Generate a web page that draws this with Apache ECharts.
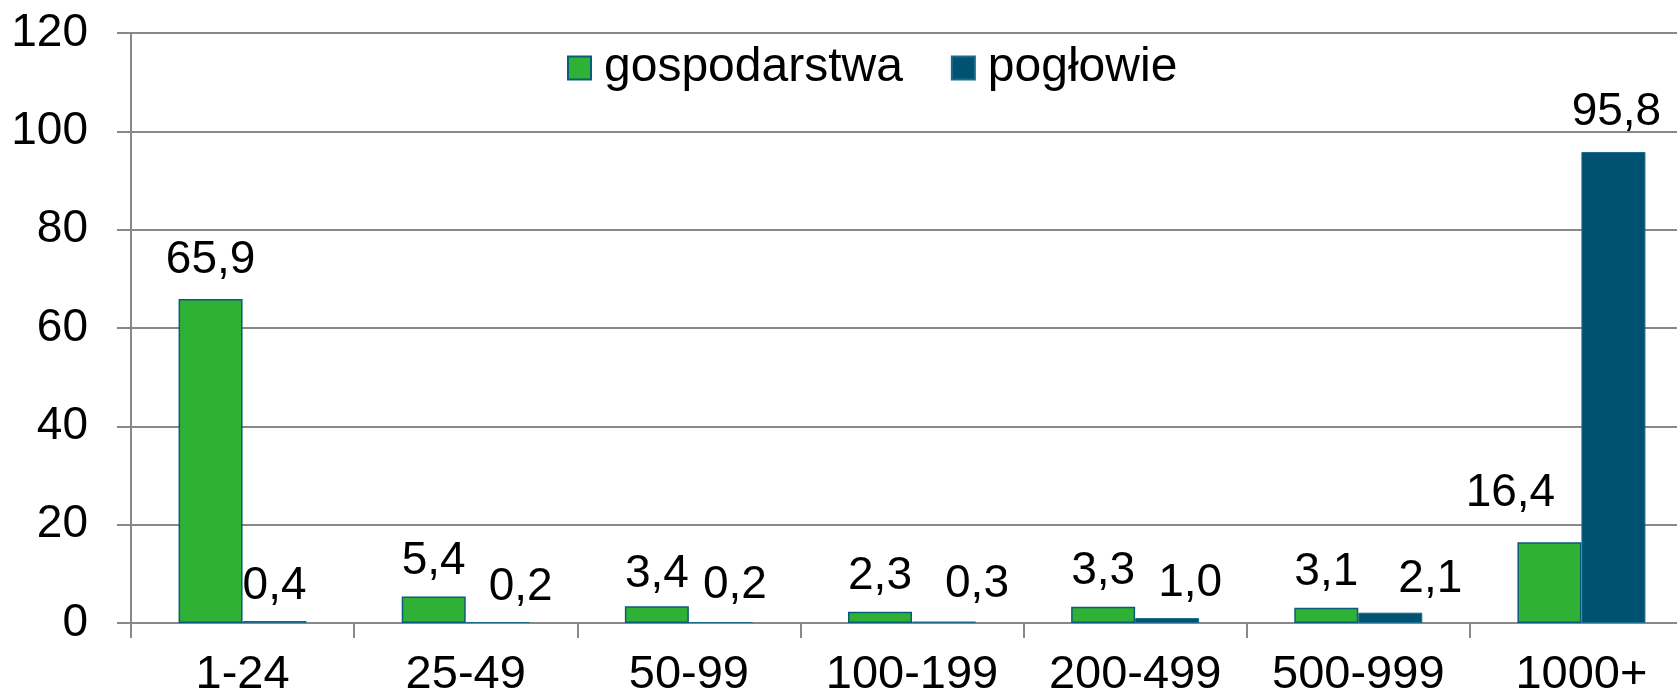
<!DOCTYPE html>
<html lang="pl">
<head>
    <meta charset="UTF-8">
    <title>gospodarstwa i pogłowie</title>
    <script src="https://cdn.jsdelivr.net/npm/echarts@6/dist/echarts.min.js"></script>
    <style>
        html, body { margin: 0; padding: 0; background: #fff; overflow: hidden; }
    </style>
</head>
<body>
<div id="chart" style="width:1677px;height:699px;"></div>
<script>
    var categories = ['1-24', '25-49', '50-99', '100-199', '200-499', '500-999', '1000+'];
    var gospodarstwa = [65.9, 5.4, 3.4, 2.3, 3.3, 3.1, 16.4];
    var poglowie = [0.4, 0.2, 0.2, 0.3, 1.0, 2.1, 95.8];
    var seriesNames = ['gospodarstwa', 'pogłowie'];

    // hand-placed label nudges, like in the original sheet
    var gospNudge = [[0, -4], [0, 0], [0, 3], [0, 0], [0, 0], [0, 0], [-39, -14]];
    var poglNudge = [[0, 0], [23, 0], [14, -2], [33, -2], [23, 0], [40, 2], [3, -5]];

    var font = 'Liberation Sans, Arial, sans-serif';
    var gray = '#888888';

    function fmt(p) {
        return p.value.toFixed(1).replace('.', ',');
    }

    function withNudge(values, nudge) {
        var out = [];
        for (var i = 0; i < values.length; i++) {
            out.push({ value: values[i], label: { offset: nudge[i] } });
        }
        return out;
    }

    var myChart = echarts.init(document.getElementById('chart'));
    var option = {
        animation: false,
        textStyle: { fontFamily: font },
        // plot runs a bit past the right edge of the picture
        grid: { left: 131, width: 1562, top: 33, bottom: 76, outerBoundsMode: 'none', containLabel: false },
        legend: {
            top: 39,
            left: 562,
            itemWidth: 23,
            itemHeight: 23,
            itemGap: 48,
            icon: 'rect',
            textStyle: { fontSize: 48, color: '#000', fontFamily: font, padding: [0, 0, 0, 8] },
            data: seriesNames
        },
        xAxis: {
            type: 'category',
            data: categories,
            axisLine: { lineStyle: { color: gray, width: 2 } },
            axisTick: { show: true, length: 15, lineStyle: { color: gray, width: 2 } },
            axisLabel: { interval: 0, fontSize: 47, color: '#000', margin: 29, fontFamily: font }
        },
        yAxis: {
            type: 'value',
            min: 0,
            max: 120,
            interval: 20,
            axisLine: { show: true, lineStyle: { color: gray, width: 2 } },
            axisTick: { show: true, length: 14, lineStyle: { color: gray, width: 2 } },
            axisLabel: { fontSize: 46, color: '#000', margin: 43, fontFamily: font },
            splitLine: { lineStyle: { color: gray, width: 2 } }
        },
        series: [
            {
                name: seriesNames[0],
                type: 'bar',
                data: withNudge(gospodarstwa, gospNudge),
                barWidth: 64,
                barGap: '0%',
                itemStyle: { color: '#2fb136', borderColor: '#0b5c7a', borderWidth: 1.5 },
                label: { show: true, position: 'top', distance: 12, fontSize: 46, color: '#000', fontFamily: font, formatter: fmt }
            },
            {
                name: seriesNames[1],
                type: 'bar',
                data: withNudge(poglowie, poglNudge),
                barWidth: 64,
                barGap: '0%',
                itemStyle: { color: '#005272', borderColor: '#1a6a8c', borderWidth: 1 },
                label: { show: true, position: 'top', distance: 12, fontSize: 46, color: '#000', fontFamily: font, formatter: fmt }
            }
        ]
    };
    myChart.setOption(option);
</script>
</body>
</html>
